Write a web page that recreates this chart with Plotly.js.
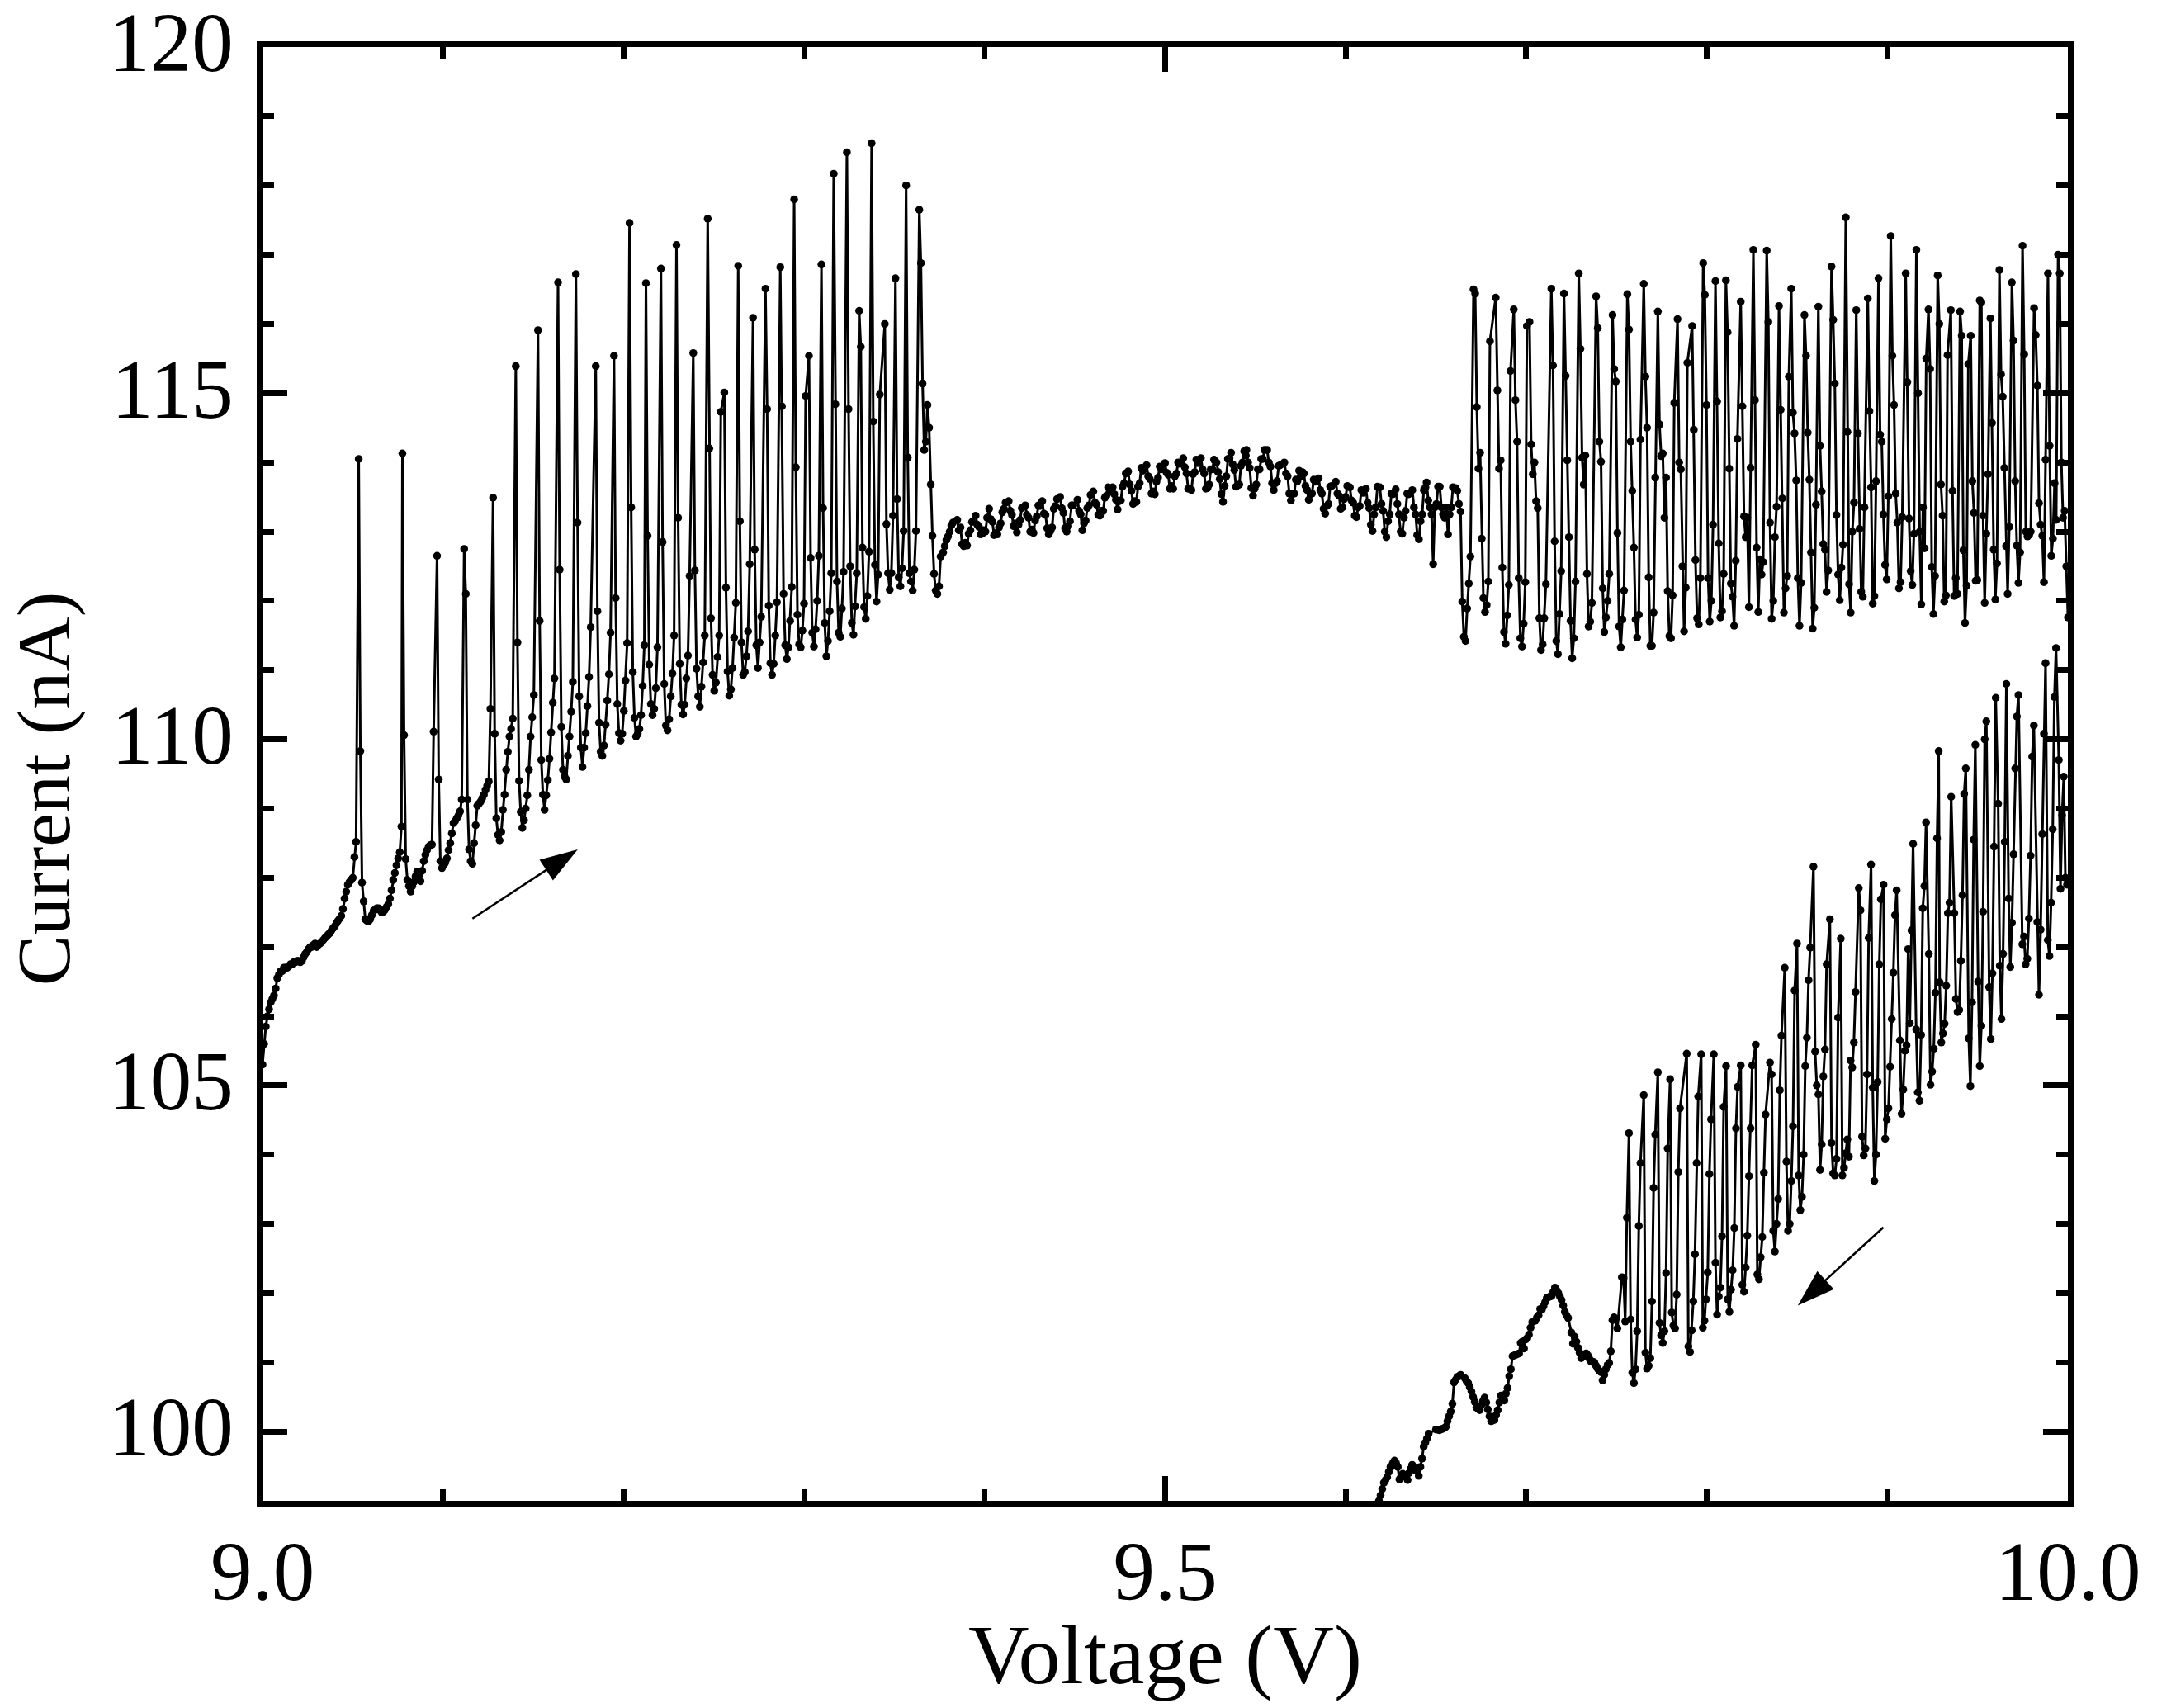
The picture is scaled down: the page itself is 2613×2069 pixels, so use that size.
<!DOCTYPE html>
<html>
<head>
<meta charset="utf-8">
<script src="https://cdn.plot.ly/plotly-3.0.1.min.js"></script>
<style>html,body{margin:0;padding:0;background:#fff}</style>
</head>
<body>
<div id="chart" style="width:2613px;height:2069px"></div>
<script>
// Each row: [voltage offset from 9 V in mV at the row's first sample, current in nA ...]
const sampleStepMv = 0.91;
const sweepBaseV = 9.0;

const upOnset = [
[0,105.3,105.6,105.85,106,106.1,106.2,106.25,106.3,106.4,106.55,106.6,106.65,106.65,106.7,106.7,106.7,106.72,106.75,106.75,106.78,106.78,106.8,106.8,106.78,106.8,106.85,106.9,106.93,106.97,107,107,107.03,107.05],
[30,107,107.03,107.05,107.07,107.1,107.13,107.15,107.18,107.2,107.24,107.27,107.3,107.34,107.38,107.41,107.45,107.55,107.7,107.8,107.9,107.94,107.97,108,108.3,108.52]
];

const upSpikes = [
[53.3,114.05,109.83,107.93,107.66,107.4,107.38,107.37,107.4,107.46,107.52,107.54,107.56,107.56,107.53,107.5,107.51,107.54,107.58,107.62,107.7,107.82,107.97,108.07,108.18,108.28,108.37,108.74],
[77.5,114.13,110.06,108.27,107.97,107.88,107.8,107.88,107.94,108.02,108.09,108.04,107.95,108.1,108.24,108.33,108.4,108.45,108.47,108.48,110.11],
[96.7,112.65,109.42,108.24,108.14,108.18,108.22,108.28,108.4,108.5,108.64,108.79,108.82,108.86,108.9,108.96,109.13],
[111.7,112.75,112.1,109.13,108.41,108.24,108.2,108.5,108.76,109.04,109.07,109.1,109.15,109.2,109.27,109.33,109.39,110.44],
[127.7,113.49,110.08,108.86,108.62,108.54,108.66,108.98,109.2,109.56,109.82,110.04,110.15,110.3],
[140.3,115.39,111.4,109.4,108.95,108.72,108.83,109,109.19,109.56,110.04,110.32,110.64],
[152.6,115.91,111.71,109.7,109.2,108.98,109.19,109.41,109.72,110.1,110.53,110.88],
[163.7,116.6,112.45,110.18,109.56,109.46,109.42,109.76,110.04,110.4,110.83],
[173.6,116.72,113.13,110.62,109.88,109.6,109.88,110.09,110.48,110.9,111.62],
[184.6,115.39,111.85,110.24,109.82,109.76,109.91,110.21,110.56,110.94,111.54],
[194.7,115.54,112.04,110.51,110.09,109.98,110.08,110.41,110.85,111.39],
[203.3,117.46,113.35,110.97,110.31,110.04,110.08,110.15,110.35,110.77,111.36],
[212.4,116.59,112.94,111.08,110.51,110.35,110.44,110.74,111.33],
[220.7,116.8,112.85,110.8,110.2,110.13,110.29,110.62,110.95,111.5],
[229.3,117.14,113.2,111.09,110.5,110.36,110.5,110.88,111.21,112.36],
[238.6,115.58,112.44,111.02,110.62,110.47,110.76,111.11,111.5],
[246.6,117.52,114.2,111.75,110.93,110.7,110.82,111.19,111.5,114.73],
[255.8,115.01,112.19,110.98,110.63,110.72,111.03,111.47,111.97],
[263.5,116.84,113.15,111.4,110.93,110.97,111.2,111.56,112.53],
[271.7,116.09,112.74,111.36,111.03,111.4,111.77],
[278.6,116.51,114.77,111.93,111.1,110.93,111.09,111.5,111.98],
[286.8,116.82,114.81,112.1,111.36,111.16,111.33,111.71,112.2],
[294.5,117.8,113.93,111.8,111.37,111.33,111.57,111.96,114.96],
[302.7,115.54,112.62,111.54,111.34,111.59,112,112.65],
[309.6,116.86,113.34,111.68,111.2,111.42,111.85,112.4],
[316.4,118.17,114.84,112.28,111.54,111.48,111.89,112.42],
[323.7,118.48,114.77,112.5,111.68,111.51,111.92,112.4],
[330.5,116.19,115.67,112.77,111.91,111.74,112.07,112.71],
[337.4,118.61,114.59,112.52,111.99,112.38,114.98],
[344.7,116,113.11,112.4,112.16,112.4,113.23],
[350.6,116.66,113.47,112.34,112.21,112.47,113.01],
[356.5,118,114.07,112.4,112.28,112.15,112.45,113.01],
[363.8,117.65,116.88,115.14,114.18,114.3,114.83,114.5,113.68,112.94,112.39,112.15,112.1,112.21,112.64]
];

const plateau = [
[377,112.7,112.79,112.88,112.93,113,113.09,113.13],
[384.8,113.17,113.02,113.06,112.82,112.79,112.84,112.8,112.97,113.02,113.14],
[395,113.23,113.1,113.07,112.96,112.97,113.02,113,113.2],
[402.5,113.33,113.18,113.14,112.95,112.98,112.96,113.06,113.12,113.28,113.33,113.42],
[413.3,113.44,113.3,113.24,113.08,113.12,112.99,113.1,113.17,113.34],
[422.5,113.38,113.24,113.2,113,113.03,112.98,113.16,113.22,113.38,113.37],
[431.9,113.44,113.26,113.24,113.05,112.96,113.01,113.06,113.33,113.37,113.47],
[441.8,113.5,113.34,113.27,113.05,113,113.08,113.15,113.38,113.38],
[451.4,113.46,113.3,113.25,113.02,113.12,113.16,113.34,113.38,113.53],
[460.2,113.58,113.42,113.39,113.24,113.23,113.3,113.3,113.49,113.52,113.64,113.58],
[470.9,113.64,113.54,113.46,113.32,113.44,113.45,113.65,113.7,113.84],
[479.5,113.87,113.68,113.59,113.4,113.44,113.43,113.65,113.7,113.92,113.88],
[489.7,113.96,113.8,113.76,113.55,113.58,113.54,113.72,113.78,113.94,113.9],
[499.9,113.99,113.85,113.82,113.62,113.66,113.62,113.8,113.84,114,113.98],
[510,114.06,113.93,113.84,113.62,113.62,113.6,113.83,113.86,114.04,113.99],
[519.8,114.06,113.9,113.84,113.62,113.63,113.68,113.9,113.9,114.04],
[528.4,114,113.86,113.76,113.54,113.43,113.66,113.8,114.05,114.06],
[536.5,114.14,113.97,113.89,113.65,113.67,113.68,113.95,114,114.16,114.1],
[545,114.18,114,113.92,113.63,113.52,113.62,113.68,113.9,113.9,114.05,114.05,114.18],
[556.5,114.18,114,113.94,113.7,113.6,113.7,113.73,113.95,113.96],
[566,114,113.84,113.8,113.55,113.45,113.55,113.55,113.75,113.73,113.88,113.8,113.86],
[576.8,113.84,113.66,113.6,113.46,113.54,113.55,113.75,113.72],
[585,113.77,113.6,113.55,113.33,113.26,113.37,113.4,113.65,113.66],
[594.5,113.72,113.55,113.52,113.33,113.35,113.47,113.5,113.66],
[602.3,113.64,113.45,113.42,113.23,113.21,113.35,113.37,113.6,113.56],
[611.2,113.62,113.42,113.34,113.1,113.01,113.25,113.35,113.65],
[618.9,113.64,113.4,113.3,113,112.92,113.15,113.25,113.55,113.54],
[627.7,113.61,113.4,113.25,113,112.97,113.2,113.3,113.55,113.54],
[636.9,113.6,113.35,113.25,112.95,112.89,113.15,113.25,113.6,113.64],
[644.8,113.71,113.45,113.35,113.25,112.53,113.35,113.4,113.65],
[652.1,113.65,113.35,113.25,113.2,113.35,112.96,113.25,113.35,113.64],
[660.9,113.63,113.59,113.4,113.29,111.99,111.48,111.42,111.89,112.25,112.64]
];

const upperSpikes = [
[670.8,116.5,116.44,114.8,113.91,114.14,112.9,112.04,111.84,111.94,112.28,115.75],
[683.1,116.38,115.04,113.91,114.03,112.48,111.55,111.38,111.79,112.23,115.32],
[693.1,116.21,114.9,114.3,112.33,111.46,111.34,111.67,112.27,115.97],
[701.8,116.03,114.26,113.83,114,113.44,113.34,111.75,111.29,111.37,111.75,112.24],
[713.9,116.51,115.4,112.86,111.42,111.23,111.81,112.43],
[720.9,116.44,115.25,114.03,112.92,111.71,111.17,111.46,112.28],
[729.1,116.73,115.64,114.07,113.68,114.1,112.39,111.63,111.7,111.97],
[738.7,116.4,115.94,114.3,114.01,112.18,111.55,111.76,112,112.39],
[747.8,116.13,115.35,115.17,112.98,111.63,111.33,111.73,112.15],
[756,116.43,115.92,114.3,113.59,112.77,111.73,111.47,111.8,114.33],
[765.1,116.58,115.24,114.5,112.34,111.35,111.35,111.83,113.78],
[772.9,116.18,114.55,114.09,114.13,113.2,113.78,112.14,111.49,111.46,112.08,114.86],
[783.8,116.07,114,113.9,112.5,111.56,112.19,115.44],
[791.9,115.97,114.47,112.59,111.75,111.66,112.33],
[798,116.88,116.42,114.83,112.33,111.7,112,113.1],
[804.8,116.62,114.88,112.83,111.76,111.85,112.39],
[810.6,116.63,115.88,113.91,112.25,112.06,111.64,112.58,114.34],
[818.8,116.32,114.81,113.22,112.92,113.2,111.91,113.92],
[825.8,117.07,114.9,112.77,111.84,112.6,112.38,112.56],
[833.2,117.06,116.03,113.13,111.74,112,112.92,113.36],
[840,116.26,114.76,113.48,111.83,112.18,112.36,115.24],
[846.8,116.51,114.72,114.42,113.74,112.33,111.64,112.26],
[854.1,116.13,115.54,114.43,113.75,112.7,111.6,111.9,113.39],
[861.8,116.25,114.24,113.58,112.82,112.74,112.13,112.44],
[869.1,116.83,116.06,115.14,113.24,112.38,112.01,112.48,112.81],
[877,117.54,114.44,112.24,111.83,113,113.42],
[882.8,116.2,114.42,113.04,112.13,112.06,113.35],
[889.2,116.37,114.74,113.64,111.96,112.07,113.73],
[895.1,116.66,114.4,114.3,113.25,112.52,112.31,113.51],
[901.9,117.27,115.54,114.83,113.55,113.13,112.18,112.27,113.21],
[910.2,116.73,115.16,113.19,112.43,112.23,112.97],
[916.1,117.07,115,113,111.95,113.35,112.76,115.5],
[922.8,116.21,115.35,112.49,111.81,112.36],
[927.9,116.7,116,113.68,113.23,111.99,112.08,115.55],
[935.2,116.2,113.59,112.07,112.33,112.1],
[940.3,116.18,115.83,112.73,111.68,112.22,115.42],
[946.2,115.83,113.73,113.27,112.29,112.3],
[951.2,116.34,116.31,113.23,111.97,112.97,113.83],
[957.1,116.08,114.57,112.74,112.02,112.54],
[962.1,116.78,115.27,114.95,113.92,112.79,112.1,113.07],
[969,116.6,115.76,113.73,112.8,112.26,112.7],
[974.9,117.13,115.56,113,112.93,112.95,113],
[981.3,116.23,115.84,115.11,113.41,113.1,112.94,112.27,114.04],
[989,116.73,114.24,112.65,112.9,113.7,113.17],
[994.6,117,116.73,114,113.2,113.3,112.5,111.76]
];

const downQuiet = [
[617.5,98.85,99,99.08,99.17,99.26,99.3,99.34,99.42,99.49,99.5],
[626.1,99.54,99.58,99.54,99.49,99.31,99.35,99.39,99.37,99.34,99.3],
[635,99.4,99.46,99.52,99.48,99.44,99.44,99.36,99.49,99.61,99.78,99.84,99.9,99.97],
[650,100.03,100.03,100.02,100.03,100.04,100.05,100.07,100.15,100.22,100.29,100.4,100.71,100.75,100.79,100.8,100.82],
[666,100.77,100.73,100.7,100.64,100.58,100.5,100.43,100.35,100.33,100.31,100.38,100.44,100.49,100.42,100.32,100.22,100.15,100.16,100.17,100.24,100.31,100.42,100.52,100.48,100.45,100.55,100.63,100.8,100.9,101.09,101.1,101.11,101.12,101.13,101.28,101.3,101.2,101.33,101.35,101.4,101.5,101.58],
[705,101.6,101.65,101.68,101.77,101.76,101.81,101.87,101.93,101.94,101.95,101.96,102.02,102.08,102.04,102,101.95,101.9,101.82,101.73,101.68,101.64],
[725,101.43,101.27,101.37,101.3,101.21,101.14,101.06,101.08,101.1,101.13,101.1,101.05,101.01,101.01,101,100.95,100.91,100.88,100.86,100.74,100.82,100.9,100.96,100.99,101.16,101.61,101.65,101.63,101.49]
];

const downSpikes = [
[753,102.23,102.22,101.59,103.09],
[756.9,104.31,101.62,100.85,100.7,100.9,101.45,102.97,103.88],
[765.1,104.86,101.14,100.91,100.95,101.06,101.88,103.52,104.29],
[772.9,105.19,101.57,101.39,101.28,101.45,102.29,104.09],
[779.7,105.09,101.72,101.53,101.49,101.98,103.75,104.67],
[788.9,105.46,101.23,101.15,101.46,101.88,102.56,103.88,104.84],
[796.9,105.45,101.5,101.6,101.91,102.3,103.72,104.51],
[803.9,105.45,102.44,101.69,101.95,102.08,102.82,104.69],
[810.7,105.28,101.91,101.73,102.05,102.33,102.94,104.38,104.98],
[818.8,105.29,102.12,102.02,102.37,102.83,103.69,104.38,105.29],
[827.1,105.59,102.27,102.2,102.52,102.81,103.74,104.58],
[835,105.33,105.16,102.9,102.6,103,103.36,104.93,105.72],
[843.2,106.7,103.9,102.9,103,103.62,104.41,106.37],
[850,107.05,103.7,103.2,103.39,104,105.28,105.69,106.52,106.99],
[859.1,108.16,105.49,105,104.87,103.78,104.15,105.13,105.52,106.75],
[868.2,107.4,104.17,103.73,103.7,103.94,105.98],
[874.2,107.12,103.7,103.81,104.02,104.22,103.97,105.36,105.26,105.62,106.35],
[884.2,107.85,107.53,104.26,103.99,104.09,105.16,107.13],
[891,108.19,104.97,103.62,104,105.05,106.75,107.69],
[897.9,107.9,104.23,104.51,104.67,105.27,105.96,106.63,107.46,107.82],
[907,105.65,104.59,104.94,105.5,105.58,106.97,105.9,107.24,108.49],
[916,105.81,104.9,104.78,105.73,107.56,107.88,108.8],
[923,106.9,105.01,105.2,105.53,106.34,108.57,109.83],
[929,106.49,105.62,105.75,105.89,106.44,107.49,107.64,109.17],
[937.1,107.49,106.25,106.06,106.09,106.8,107.75,109.21,109.58],
[945.1,105.68,104.99,106.2,108.55,109.92],
[950.3,106.5,105.28,105.86,107.51,110,110.26],
[956.4,106.42,105.67,106.62,108.45,110.6],
[961.4,109.07,106.73,105.96,106.9,108.52,110.8],
[967.2,107.7,106.71,107.35,108.34,109.58,110.33,110.64],
[974.8,107.04,107.15,106.75,106.83,107.41,108.32,109.75,110.2],
[983.1,107.36,106.31,107.25,108.63,110.08,111.1],
[988.9,107.1,106.87,107.64,108.7,110.61,111.32],
[995,109.7,107.84,108.9,109.46,108,107.9]
];

// Arrow ends
const upArrowV = [9.1163, 9.1746];
const upArrowI = [107.41, 108.41];
const downArrowV = [9.8978, 9.8504];
const downArrowI = [102.95, 101.82];

const xTitle = 'Voltage (V)';
const yTitle = 'Current (nA)';

function expand(rows) {
  const x = [], y = [];
  rows.forEach(function (row) {
    for (let k = 1; k < row.length; k++) {
      x.push(sweepBaseV + (row[0] + (k - 1) * sampleStepMv) / 1000);
      y.push(row[k]);
    }
  });
  return {x: x, y: y};
}

const up = expand(upOnset.concat(upSpikes, plateau, upperSpikes));
const down = expand(downQuiet.concat(downSpikes));

function sweepTrace(s) {
  return {
    x: s.x, y: s.y, type: 'scatter', mode: 'lines+markers',
    line: {color: '#000', width: 3},
    marker: {color: '#000', size: 9.5},
    showlegend: false, hoverinfo: 'skip'
  };
}

function arrowTrace(xs, ys) {
  return {
    x: xs, y: ys, type: 'scatter', mode: 'lines+markers',
    line: {color: '#000', width: 2.6},
    marker: {color: '#000', opacity: 1, symbol: 'arrow', size: [0, 48], angleref: 'previous', line: {width: 0}},
    showlegend: false, hoverinfo: 'skip'
  };
}

const tickFont = {family: '"Liberation Serif", serif', size: 101, color: '#000'};

const layout = {
  width: 2613, height: 2069,
  paper_bgcolor: '#fff', plot_bgcolor: '#fff',
  margin: {l: 318, r: 108, t: 57, b: 251, pad: 0},
  showlegend: false,
  xaxis: {
    range: [9, 10], tick0: 9, dtick: 0.5, tickformat: '.1f',
    ticks: 'inside', ticklen: 30, tickwidth: 7, tickcolor: '#000',
    minor: {dtick: 0.1, tick0: 9, ticks: 'inside', ticklen: 14, tickwidth: 7, tickcolor: '#000', showgrid: false},
    showline: true, linewidth: 7, linecolor: '#000', mirror: 'ticks',
    showgrid: false, zeroline: false, tickfont: tickFont,
    ticklabelstandoff: -8,
    title: {text: xTitle, font: {family: '"Liberation Serif", serif', size: 102, color: '#000'}, standoff: 2},
    automargin: false
  },
  yaxis: {
    range: [99, 120], tick0: 100, dtick: 5,
    ticks: 'inside', ticklen: 30, tickwidth: 7, tickcolor: '#000',
    minor: {dtick: 1, tick0: 100, ticks: 'inside', ticklen: 14, tickwidth: 7, tickcolor: '#000', showgrid: false},
    showline: true, linewidth: 7, linecolor: '#000', mirror: 'ticks',
    showgrid: false, zeroline: false, tickfont: tickFont,
    ticklabelstandoff: 8,
    title: {text: yTitle, font: {family: '"Liberation Serif", serif', size: 92, color: '#000'}, standoff: 12},
    automargin: false
  }
};

Plotly.newPlot('chart', [sweepTrace(up), sweepTrace(down), arrowTrace(upArrowV, upArrowI), arrowTrace(downArrowV, downArrowI)], layout, {displayModeBar: false, staticPlot: true}).then(function (gd) {
  // The reference centres the y title a little below the plot centre and further left,
  // and its y tick labels sit slightly above the default.
  const t = gd.querySelector('.g-ytitle');
  if (t) t.setAttribute('transform', 'translate(-7,18)');
  const xt = gd.querySelector('.g-xtitle');
  if (xt) xt.setAttribute('transform', 'translate(0,9)');
  gd.querySelectorAll('.ytick text').forEach(function (el) {
    el.setAttribute('y', parseFloat(el.getAttribute('y')) - 6);
  });
});
</script>
</body>
</html>
